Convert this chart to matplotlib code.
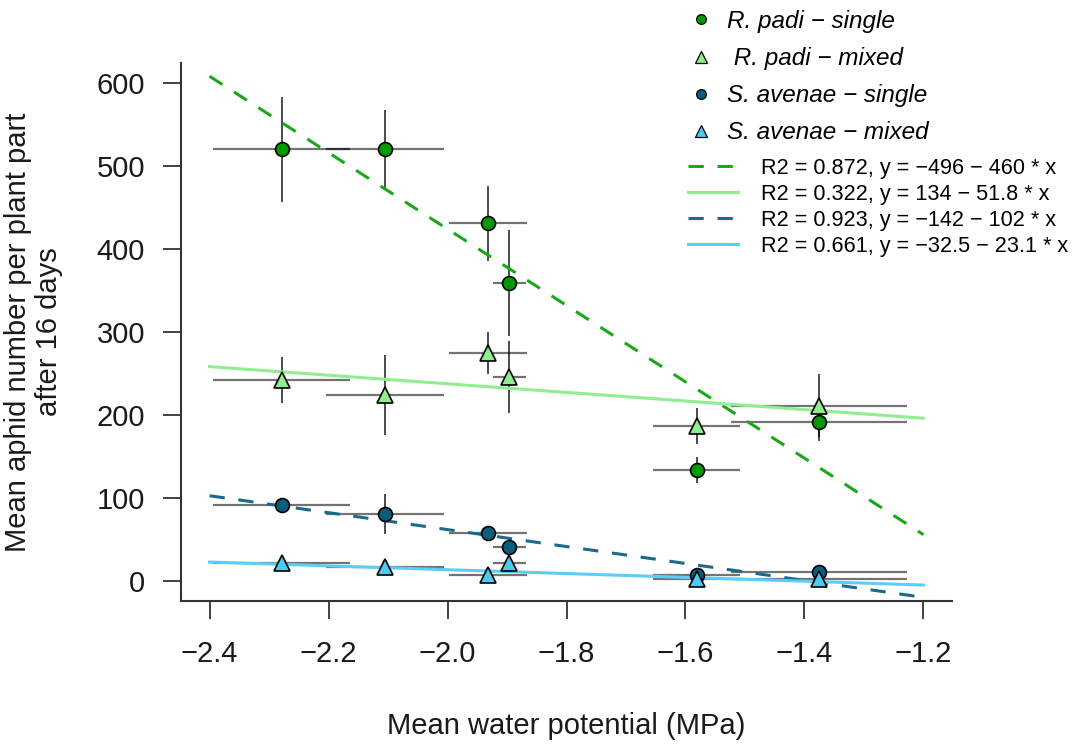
import matplotlib
matplotlib.use("Agg")
import matplotlib.pyplot as plt
from matplotlib.lines import Line2D
import numpy as np

plt.rcParams['font.family'] = ['Liberation Sans', 'DejaVu Sans']

# mean water potential of each treatment (x) and its spread
water_pot = [-2.279, -2.105, -1.932, -1.896, -1.581, -1.376]
water_err = [0.115, 0.099, 0.065, 0.028, 0.073, 0.148]

# mean aphid numbers and their errors
padi_single = [520, 520, 431, 359, 134, 191]
padi_single_err = [63, 47, 45, 64, 16, 22]
padi_mixed = [242, 224, 275, 246, 187, 211]
padi_mixed_err = [28, 48, 25, 43, 22, 38]
avenae_single = [92, 81, 58, 41, 7, 11]
avenae_single_err = [3, 24, 3, 7, 4, 4]
avenae_mixed = [22, 17, 7, 22, 2, 2]
avenae_mixed_err = [3, 3, 3, 8, 2, 2]

series_labels = ["R. padi \u2212 single", " R. padi \u2212 mixed",
                 "S. avenae \u2212 single", "S. avenae \u2212 mixed"]

# linear fits y = a + b * x
fit_r2 = [0.872, 0.322, 0.923, 0.661]
fit_a = [-496, 134, -142, -32.5]
fit_b = [-460, -51.8, -102, -23.1]
fit_range = [-2.4, -1.2]

x_ticks = [-2.4, -2.2, -2.0, -1.8, -1.6, -1.4, -1.2]
y_ticks = [0, 100, 200, 300, 400, 500, 600]


def fmt(v):
    return f"{v:g}".replace("-", "\u2212")


def fit_label(r2, a, b):
    sign = "\u2212" if b < 0 else "+"
    return f"R2 = {r2:.3f}, y = {fmt(a)} {sign} {fmt(abs(b))} * x"


values = [padi_single, padi_mixed, avenae_single, avenae_mixed]
errors = [padi_single_err, padi_mixed_err, avenae_single_err, avenae_mixed_err]
markers = ['o', '^', 'o', '^']
marker_sizes = [10, 11.5, 10, 11.5]
legend_sizes = [7, 8, 7, 8]
fills = ['#009a00', '#90ee90', '#0b5d7b', '#4fc8f2']
line_colors = ['#1aa81a', '#90ee90', '#1a6a8c', '#5ccdf8']
dash = (0, (5, 4.5))
line_styles = [dash, '-', dash, '-']

fig = plt.figure(figsize=(10.81, 7.45), dpi=100)
ax = fig.add_axes([181 / 1081, 1 - 601 / 745, 771 / 1081, 538 / 745])

for y, err in zip(values, errors):
    ax.errorbar(water_pot, y, xerr=water_err, fmt='none',
                ecolor=(0, 0, 0, 0.55), elinewidth=1.6, capsize=0, zorder=2)
    ax.errorbar(water_pot, y, yerr=err, fmt='none',
                ecolor=(0, 0, 0, 0.7), elinewidth=1.4, capsize=0, zorder=2)

xs = np.array(fit_range)
for a, b, c, ls in zip(fit_a, fit_b, line_colors, line_styles):
    ax.plot(xs, a + b * xs, color=c, lw=2.2, ls=ls, zorder=3)

for y, m, ms, c in zip(values, markers, marker_sizes, fills):
    ax.plot(water_pot, y, ls='none', marker=m, ms=ms, mfc=c, mec='black',
            mew=1.2, zorder=4)

ax.set_xlim(-2.448, -1.152)
ax.set_ylim(-24, 624)
ax.set_xticks(x_ticks)
ax.set_xticklabels([f"{t:.1f}".replace("-", "\u2212") for t in x_ticks])
ax.set_yticks(y_ticks)
for side in ['top', 'right']:
    ax.spines[side].set_visible(False)
for side in ['left', 'bottom']:
    ax.spines[side].set_color('#333333')
    ax.spines[side].set_linewidth(1.5)
ax.tick_params(axis='both', length=13, width=1.3, color='#333333',
               labelsize=21, labelcolor='#1a1a1a')
ax.tick_params(axis='x', pad=15)
ax.tick_params(axis='y', pad=13)

ax.set_xlabel("Mean water potential (MPa)", fontsize=21, color='#1a1a1a')
ax.xaxis.set_label_coords(0.5, -0.206)
ax.set_ylabel("Mean aphid number per plant part\nafter 16 days", fontsize=21,
              color='#1a1a1a', linespacing=1.12)
ax.yaxis.set_label_coords(-0.153, 0.5)

point_handles = [Line2D([], [], ls='none', marker=m, ms=s, mfc=c, mec='black', mew=0.9)
                 for m, s, c in zip(markers, legend_sizes, fills)]
fig.legend(handles=point_handles, labels=series_labels, loc='upper left',
           bbox_to_anchor=(689 / 1081, 1 - 10 / 745), frameon=False,
           prop={'size': 17.5, 'style': 'italic'}, handlelength=0.95,
           handletextpad=0.6, labelspacing=0.58, borderpad=0, borderaxespad=0)

line_handles = [Line2D([], [], color=c, lw=2.2, ls=ls)
                for c, ls in zip(line_colors, line_styles)]
fig.legend(handles=line_handles,
           labels=[fit_label(r, a, b) for r, a, b in zip(fit_r2, fit_a, fit_b)],
           loc='upper left', bbox_to_anchor=(688 / 1081, 1 - 158 / 745),
           frameon=False, prop={'size': 15.6}, handlelength=2.3,
           handletextpad=1.05, labelspacing=0.23, borderpad=0, borderaxespad=0)

fig.savefig("out.png", dpi=100)
